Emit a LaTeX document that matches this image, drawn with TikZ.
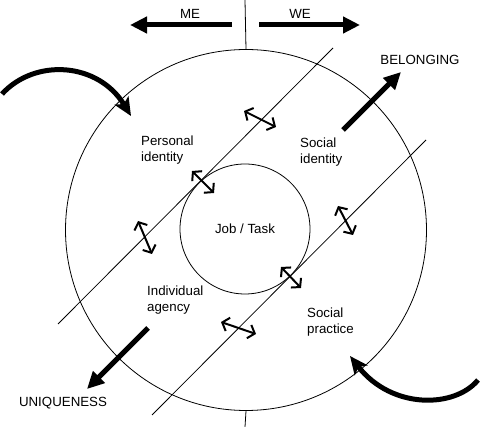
\documentclass[tikz,border=0pt]{standalone}
\usepackage{fontspec}
\setmainfont{Liberation Sans}
\usetikzlibrary{arrows.meta}
\tikzset{
  lbl/.style={inner sep=0pt,align=left,font=\fontsize{13.3}{15.5}\selectfont},
  thin/.style={line width=0.8pt},
  fat/.style={line width=5pt,-{Triangle[length=17pt,width=16pt]}},
  curvy/.style={line width=5pt,-{Stealth[length=18pt,width=16pt,inset=4pt]}},
  dbl/.style={line width=2pt,{Straight Barb[length=6pt,width=14pt]}-{Straight Barb[length=6pt,width=14pt]}}
}
\begin{document}
\begin{tikzpicture}
  [x=1pt,y=-1pt]
  \useasboundingbox (0,0) rectangle (480,427);
  % circles
  \node[thin,draw,circle,minimum size=361pt,inner sep=0pt] (outer) at (246,230) {};
  \node[thin,draw,circle,minimum size=130pt,inner sep=0pt,lbl] (job) at (245,229) {Job / Task};
  % texts
  \node[lbl,anchor=west] (pid) at (141,150) {Personal\\identity};
  \node[lbl,anchor=west] (sid) at (300,152) {Social\\identity};
  \node[lbl,anchor=west] (iag) at (147,300) {Individual\\agency};
  \node[lbl,anchor=west] (spr) at (307,322) {Social\\practice};
  \node[lbl] (me) at (190,14) {ME};
  \node[lbl] (we) at (300,14) {WE};
  \node[lbl] (bel) at (420,60) {BELONGING};
  \node[lbl] (uni) at (63,403) {UNIQUENESS};
  % axis and diagonals
  \coordinate (t1) at (245,0);
  \coordinate (b1) at (245,427);
  \coordinate (l1a) at (333,48);
  \coordinate (l1b) at (58,324);
  \coordinate (l2a) at (426,140);
  \coordinate (l2b) at (152,415);
  \draw[thin] (t1) -- (outer.north);
  \draw[thin] (outer.south) -- (b1);
  \foreach \from/\to in {l1a/l1b,l2a/l2b}
    \draw[thin] (\from) -- (\to);
  % double arrows
  \coordinate (d1a) at (244,111); \coordinate (d1b) at (276,127);
  \coordinate (d2a) at (192,171); \coordinate (d2b) at (214,193);
  \coordinate (d3a) at (138,221); \coordinate (d3b) at (152,254);
  \coordinate (d4a) at (281,267); \coordinate (d4b) at (301,288);
  \coordinate (d5a) at (338,206); \coordinate (d5b) at (353,235);
  \coordinate (d6a) at (221,322); \coordinate (d6b) at (256,334);
  \foreach \from/\to in {d1a/d1b,d2a/d2b,d3a/d3b,d4a/d4b,d5a/d5b,d6a/d6b}
    \draw[dbl] (\from) -- (\to);
  % thick arrows
  \coordinate (mes) at (232,25); \coordinate (mee) at (130,25);
  \coordinate (wes) at (259,25); \coordinate (wee) at (360,25);
  \coordinate (bes) at (343,130); \coordinate (bee) at (401,72);
  \coordinate (uns) at (148,328); \coordinate (une) at (87,389);
  \foreach \from/\to in {mes/mee,wes/wee,bes/bee,uns/une}
    \draw[fat] (\from) -- (\to);
  % curved arrows
  \coordinate (cas) at (2,94); \coordinate (cae) at (131,116);
  \coordinate (cbs) at (478,380); \coordinate (cbe) at (350,356);
  \draw[curvy] (cas) .. controls (35,58) and (98,62) .. (cae);
  \draw[curvy] (cbs) .. controls (455,408) and (392,410) .. (cbe);
\end{tikzpicture}
\end{document}
